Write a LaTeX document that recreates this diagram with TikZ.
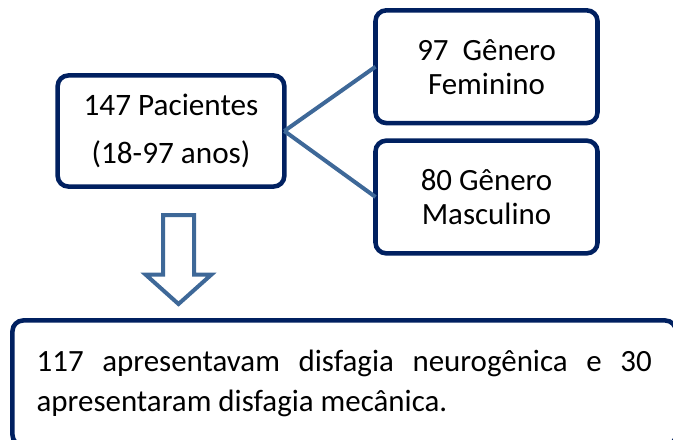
\documentclass[tikz,border=0pt]{standalone}
\usepackage{fontspec}
\setmainfont{Carlito}
\definecolor{boxnavy}{RGB}{0,32,96}
\definecolor{linkblue}{RGB}{62,104,152}
\begin{document}
\begin{tikzpicture}[x=0.75pt, y=-0.75pt]
    % Define styles for boxes and links
    \tikzstyle{groupbox} = [rectangle, rounded corners=8pt, draw=boxnavy, line width=3.4pt, fill=white, inner sep=0pt, outer sep=0pt, text centered, align=center]
    \tikzstyle{patients} = [groupbox, minimum width=170pt, minimum height=83.3pt, font=\fontsize{23.4}{36}\selectfont]
    \tikzstyle{gender} = [groupbox, minimum width=166.5pt, minimum height=84.5pt, font=\fontsize{23.2}{25.5}\selectfont]
    \tikzstyle{result} = [groupbox, minimum width=497.6pt, minimum height=93.8pt, text width=461.3pt, align=justify, font=\fontsize{23.2}{30}\selectfont]
    \tikzstyle{link} = [draw=linkblue, line width=3pt]
    \tikzstyle{blockarrow} = [draw=linkblue, line width=3pt, fill=white, line join=miter]
    \useasboundingbox (0,0) rectangle (673,439);
    % Nodes
    \node (pacientes) [patients] at (171,131) {147 Pacientes\\(18-97 anos)};
    \node (feminino) [gender] at (486.5,66.7) {97\ \ Gênero\\Feminino};
    \node (masculino) [gender] at (486.5,197) {80 Gênero\\Masculino};
    \node (disfagia) [result] at (344.2,383) {117 apresentavam disfagia neurogênica e 30\linebreak apresentaram disfagia mecânica.};
    % Links
    \draw [link] (pacientes.east) -- (feminino.west);
    \draw [link] (pacientes.east) -- (masculino.west);
    % Big down arrow
    \coordinate (tip) at (178.5,304);
    \draw [blockarrow] (tip) -- ++(-33,-29.5) -- ++(17.5,0) -- ++(0,-59.5) -- ++(31,0) -- ++(0,59.5) -- ++(17.5,0) -- cycle;
\end{tikzpicture}
\end{document}
